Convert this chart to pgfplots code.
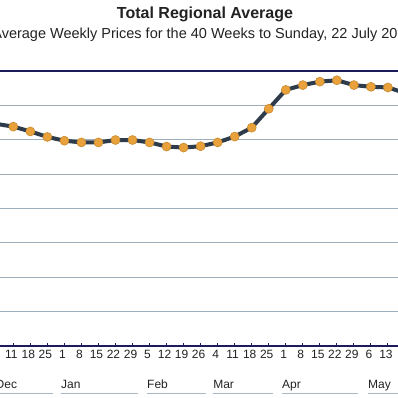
\documentclass[border=0pt]{standalone}
\usepackage{fontspec}
\setmainfont{Liberation Sans}
\usepackage{pgfplots}
\pgfplotsset{compat=1.18}
\usepackage{pgfplotstable}
\definecolor{navy}{HTML}{1C1C5C}
\definecolor{gridc}{HTML}{9DAEBC}
\definecolor{linec}{HTML}{2E3B4A}
\definecolor{markf}{HTML}{E9A23B}
\definecolor{markd}{HTML}{C98A2E}
\definecolor{ulc}{HTML}{A8B7C5}
\definecolor{txt}{HTML}{222222}

% week index 0 = Sunday 11 Dec; values in gridline units
\pgfplotstableread{
idx val
-1 6.46
0 6.38
1 6.24
2 6.08
3 5.97
4 5.92
5 5.92
6 5.99
7 5.99
8 5.92
9 5.80
10 5.77
11 5.81
12 5.92
13 6.09
14 6.35
15 6.90
16 7.45
17 7.59
18 7.69
19 7.73
20 7.59
21 7.54
22 7.52
23 7.36
}\pricedata

\begin{document}
\begin{tikzpicture}[x=1pt,y=1pt]
\useasboundingbox (0,0) rectangle (398,398);
\clip (0,0) rectangle (398,398);
\node[anchor=base, font=\fontsize{16}{19}\bfseries\selectfont, text=txt] at (205,379) {Total Regional Average};
\node[anchor=base, font=\fontsize{14.5}{17}\selectfont, text=txt] at (203,359.5) {Average Weekly Prices for the 40 Weeks to Sunday, 22 July 2012};
\begin{axis}[
  at={(0pt,52.3pt)}, anchor=south west,
  scale only axis, width=398pt, height=274.7pt,
  xmin=-0.781, xmax=22.59, ymin=0, ymax=8,
  separate axis lines,
  x axis line style={navy, line width=1.8pt},
  y axis line style={draw=none},
  xtick={0,...,22}, xtick pos=bottom, tick align=inside, major tick length=3pt,
  xtick style={navy, line width=1pt},
  xticklabels={11,18,25,1,8,15,22,29,5,12,19,26,4,11,18,25,1,8,15,22,29,6,13},
  xticklabel style={font=\fontsize{12}{14}\selectfont, text=txt, anchor=base, yshift=-12.5pt, xshift=-2pt},
  ytick={0,...,8}, yticklabels={}, ytick style={draw=none},
  ymajorgrids, grid style={gridc, line width=0.9pt},
  clip mode=individual, clip marker paths=true,
]
\addplot[linec, line width=4pt, mark=*, mark size=4.5pt,
  mark options={fill=markf, draw=markd, line width=0.6pt}]
  table[x=idx, y=val] {\pricedata};
\node[font=\fontsize{12}{14}\selectfont, text=txt, anchor=base, yshift=-12.5pt, xshift=-2pt] at (axis cs:-1,0) {4};
\begin{scope}[every node/.style={anchor=base west, font=\fontsize{12}{14}\selectfont, text=txt, inner sep=0pt}]
\node at (axis cs:-1.045,-1.232) {Dec};
\node at (axis cs:2.80,-1.232) {Jan};
\node at (axis cs:7.85,-1.232) {Feb};
\node at (axis cs:11.73,-1.232) {Mar};
\node at (axis cs:15.78,-1.232) {Apr};
\node at (axis cs:20.83,-1.232) {May};
\end{scope}
\begin{scope}[ulc, line width=1pt]
\draw (axis cs:-1.5,-1.378) -- (axis cs:2.33,-1.378);
\draw (axis cs:2.80,-1.378) -- (axis cs:7.32,-1.378);
\draw (axis cs:7.85,-1.378) -- (axis cs:11.31,-1.378);
\draw (axis cs:11.73,-1.378) -- (axis cs:15.25,-1.378);
\draw (axis cs:15.78,-1.378) -- (axis cs:20.24,-1.378);
\draw (axis cs:20.83,-1.378) -- (axis cs:23.5,-1.378);
\end{scope}
\end{axis}
\end{tikzpicture}
\end{document}
